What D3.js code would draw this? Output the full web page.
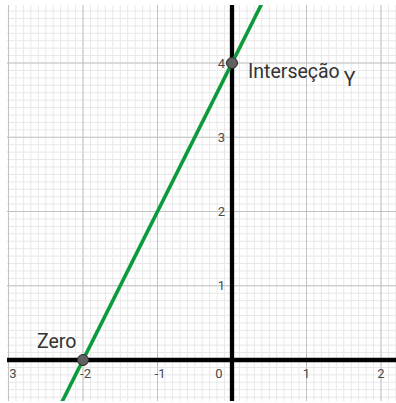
<!DOCTYPE html>
<html>
<head>
<meta charset="utf-8">
<script src="https://cdn.jsdelivr.net/npm/d3@7"></script>
<style>
	body { margin: 0; background: #fff; }
	svg { display: block; font-family: Roboto, "Noto Sans", sans-serif; }
</style>
</head>
<body>
<svg id="graph" width="396" height="403"></svg>
<script>
// values
const xTicks = [-3, -2, -1, 0, 1, 2];
const yTicks = [1, 2, 3, 4];
const lineXs = [-3, 1];
const lineYs = [-2, 6];
const pointXs = [0, -2];
const pointYs = [4, 0];
const pointNames = ["Interseção", "Zero"];

const width = 396, height = 403;
const area = { left: 7, top: 5, right: 396, bottom: 401 };

const x = d3.scaleLinear().domain([-3, 2]).range([8.5, 381]);
const y = d3.scaleLinear().domain([0, 4]).range([360, 63]);

const svg = d3.select("#graph");
const defs = svg.append("defs");

defs.append("clipPath")
	.attr("id", "plot-clip")
	.append("rect")
	.attr("x", area.left)
	.attr("y", area.top)
	.attr("width", area.right - area.left)
	.attr("height", area.bottom - area.top);

// labels are cut a bit further in, like the -3 on the left edge
defs.append("clipPath")
	.attr("id", "label-clip")
	.append("rect")
	.attr("x", 10)
	.attr("y", area.top)
	.attr("width", area.right - 10)
	.attr("height", area.bottom - area.top);

const g = svg.append("g").attr("clip-path", "url(#plot-clip)");

const xMin = x.invert(area.left), xMax = x.invert(area.right);
const yMin = y.invert(area.bottom), yMax = y.invert(area.top);

function drawGrid(step, color, widthPx) {
	const vx = d3.range(Math.ceil(xMin / step), Math.floor(xMax / step) + 1).map(k => k * step);
	const hy = d3.range(Math.ceil(yMin / step), Math.floor(yMax / step) + 1).map(k => k * step);
	const grid = g.append("g").attr("class", "grid");
	grid.selectAll(".v")
		.data(vx)
		.enter()
		.append("line")
		.attr("x1", d => x(d)).attr("x2", d => x(d))
		.attr("y1", area.top).attr("y2", area.bottom)
		.attr("stroke", color).attr("stroke-width", widthPx);
	grid.selectAll(".h")
		.data(hy)
		.enter()
		.append("line")
		.attr("y1", d => y(d)).attr("y2", d => y(d))
		.attr("x1", area.left).attr("x2", area.right)
		.attr("stroke", color).attr("stroke-width", widthPx);
}

drawGrid(0.1, "#e8e8e8", 1);
drawGrid(1, "#c2c2c2", 1);

// axes
g.append("line")
	.attr("x1", area.left).attr("x2", area.right)
	.attr("y1", y(0)).attr("y2", y(0))
	.attr("stroke", "#000").attr("stroke-width", 4.3);
g.append("line")
	.attr("x1", x(0)).attr("x2", x(0))
	.attr("y1", area.top).attr("y2", area.bottom)
	.attr("stroke", "#000").attr("stroke-width", 4.3);

// tick labels
const labels = svg.append("g").attr("clip-path", "url(#label-clip)");

labels.selectAll(".xlab")
	.data(xTicks)
	.enter()
	.append("text")
	.attr("x", d => d === 0 ? x(0) - 13 : x(d) + (d < 0 ? 2.5 : 0))
	.attr("y", 378)
	.attr("text-anchor", "middle")
	.attr("fill", "#4a4a4a")
	.style("font-size", "13px")
	.text(d => d);

labels.selectAll(".ylab")
	.data(yTicks)
	.enter()
	.append("text")
	.attr("x", x(0) - 7)
	.attr("y", d => y(d))
	.attr("dy", "0.36em")
	.attr("text-anchor", "end")
	.attr("fill", "#4a4a4a")
	.style("font-size", "13px")
	.text(d => d);

// the line
g.append("line")
	.attr("x1", x(lineXs[0])).attr("y1", y(lineYs[0]))
	.attr("x2", x(lineXs[1])).attr("y2", y(lineYs[1]))
	.attr("stroke", "#0b9a3c")
	.attr("stroke-width", 3.6);

// points
g.selectAll(".pt")
	.data(pointXs)
	.enter()
	.append("circle")
	.attr("cx", d => x(d))
	.attr("cy", (_, i) => y(pointYs[i]))
	.attr("r", 5.5)
	.attr("fill", "#606060")
	.attr("stroke", "#2a2a2a")
	.attr("stroke-width", 1);

// point captions
const inter = svg.append("text")
	.attr("x", 248)
	.attr("y", 78)
	.attr("fill", "#333")
	.style("font-size", "19.5px");
inter.append("tspan").text(pointNames[0]);
inter.append("tspan").attr("dx", 4).attr("dy", 8).text("Y");

svg.append("text")
	.attr("x", 37)
	.attr("y", 348)
	.attr("fill", "#333")
	.style("font-size", "19.5px")
	.text(pointNames[1]);
</script>
</body>
</html>
